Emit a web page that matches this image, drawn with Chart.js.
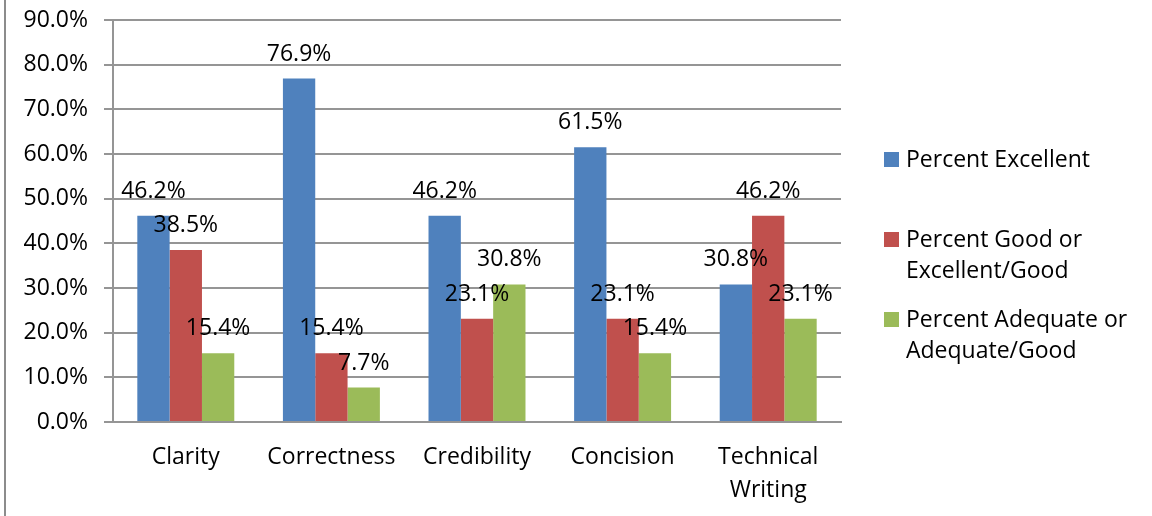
<!DOCTYPE html>
<html>
<head>
<meta charset="utf-8">
<script src="https://cdn.jsdelivr.net/npm/chart.js@4/dist/chart.umd.min.js"></script>
<style>
  html, body { margin: 0; padding: 0; background: #fff; }
  #wrap { position: relative; width: 1152px; height: 516px; overflow: hidden; }
  #frame { position: absolute; left: 4px; top: 0; width: 2px; height: 516px; background: #8c8c8c; }
  canvas { position: absolute; left: 0; top: 0; }
  .leg { position: absolute; left: 906px; font: 23px "Open Sans", sans-serif; line-height: 31px; color: #000; }
  .leg i { position: absolute; left: -22px; top: 9px; width: 15px; height: 15px; }
</style>
</head>
<body>
<div id="wrap">
  <canvas id="chart" width="1152" height="516"></canvas>
  <div id="frame"></div>
  <div id="legend"></div>
</div>
<script>
"use strict";

// ── Data ─────────────────────────────────────────────────────────────────────

const CATEGORIES = ["Clarity", "Correctness", "Credibility", "Concision", ["Technical", "Writing"]];
const EXCELLENT  = [46.2, 76.9, 46.2, 61.5, 30.8];
const GOOD       = [38.5, 15.4, 23.1, 23.1, 46.2];
const ADEQUATE   = [15.4, 7.7, 30.8, 15.4, 23.1];
const Y_TICKS    = [0, 10, 20, 30, 40, 50, 60, 70, 80, 90];

const SERIES = [
  { label: ["Percent Excellent"], data: EXCELLENT, color: "#4f81bd" },
  { label: ["Percent Good or", "Excellent/Good"], data: GOOD, color: "#c0504d" },
  { label: ["Percent Adequate or", "Adequate/Good"], data: ADEQUATE, color: "#9bbb59" },
];

const FONT = "'Open Sans', sans-serif";
const GRID = "#959595";

// ── Value labels above bars ──────────────────────────────────────────────────

const valueLabels = {
  id: "valueLabels",
  afterDatasetsDraw(chart) {
    const ctx = chart.ctx;
    ctx.save();
    ctx.font = `23px ${FONT}`;
    ctx.fillStyle = "#000";
    ctx.textAlign = "center";
    ctx.textBaseline = "alphabetic";
    chart.data.datasets.forEach((ds, i) => {
      chart.getDatasetMeta(i).data.forEach((bar, j) => {
        ctx.fillText(ds.data[j].toFixed(1) + "%", bar.x, bar.y - 18);
      });
    });
    ctx.restore();
  },
};

// ── Chart ────────────────────────────────────────────────────────────────────

new Chart(document.getElementById("chart").getContext("2d"), {
  type: "bar",
  data: {
    labels: CATEGORIES,
    datasets: SERIES.map((s) => ({
      label: s.label.join(" "),
      data: s.data,
      backgroundColor: s.color,
      borderWidth: 0,
      categoryPercentage: 0.666,
      barPercentage: 1,
    })),
  },
  options: {
    responsive: false,
    animation: false,
    layout: { padding: { top: 20, right: 311, left: 0, bottom: 0 } },
    plugins: { legend: { display: false }, tooltip: { enabled: false } },
    scales: {
      x: {
        grid: { display: false, drawTicks: false },
        border: { display: true, color: GRID, width: 2 },
        ticks: { color: "#000", font: { family: FONT, size: 23, lineHeight: 1.43 }, padding: 19, maxRotation: 0 },
        afterFit: (s) => { s.height = 94; s.paddingLeft = 0; s.paddingRight = 0; },
      },
      y: {
        min: 0,
        max: 90,
        afterBuildTicks: (s) => { s.ticks = Y_TICKS.map((v) => ({ value: v })); },
        grid: { color: GRID, lineWidth: 2, tickLength: 9 },
        border: { display: true, color: GRID, width: 2 },
        ticks: { color: "#000", font: { family: FONT, size: 23 }, padding: 16, callback: (v) => v.toFixed(1) + "%" },
        afterFit: (s) => { s.width = 113; s.paddingTop = 0; s.paddingBottom = 0; },
      },
    },
  },
  plugins: [valueLabels],
});

// ── HTML legend ──────────────────────────────────────────────────────────────

const LEGEND_TOPS = [143, 223, 303];
document.getElementById("legend").innerHTML = SERIES.map((s, i) =>
  `<div class="leg" style="top:${LEGEND_TOPS[i]}px"><i style="background:${s.color}"></i>${s.label.join("<br>")}</div>`
).join("");
</script>
</body>
</html>
